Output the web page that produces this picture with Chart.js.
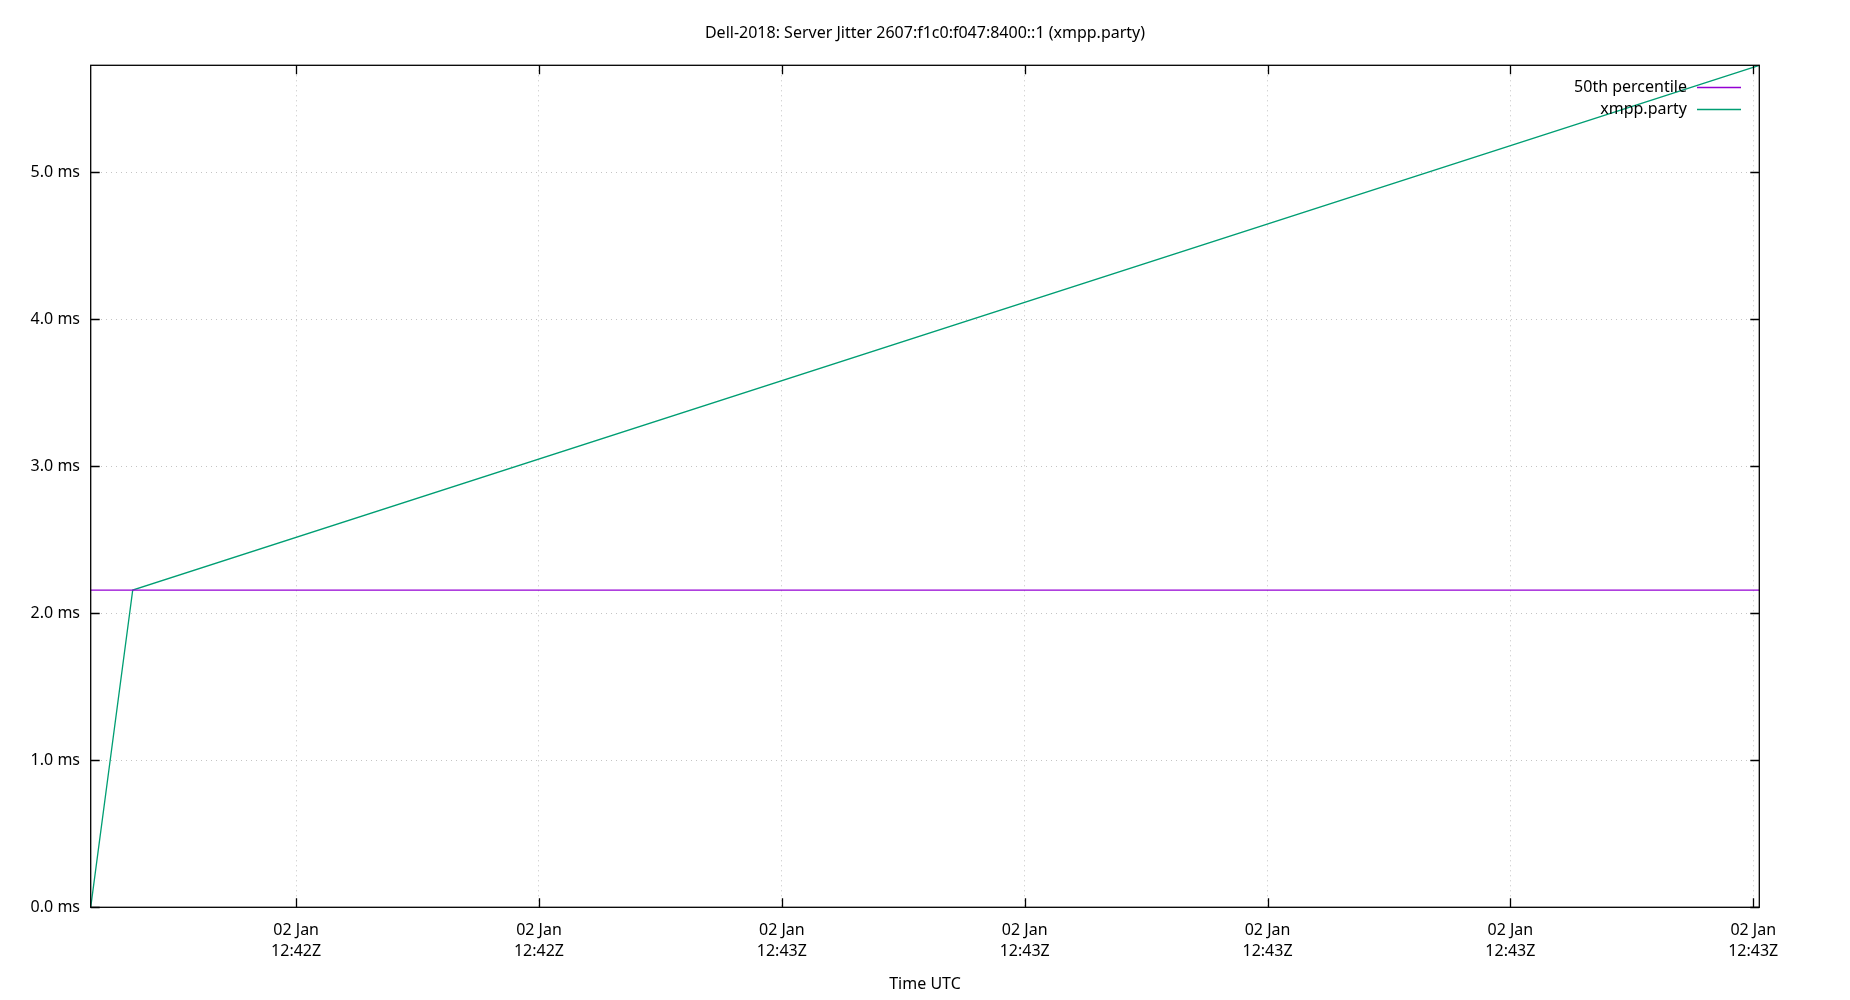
<!DOCTYPE html>
<html>
<head>
<meta charset="utf-8">
<script src="https://cdn.jsdelivr.net/npm/chart.js@4.4.1/dist/chart.umd.min.js"></script>
<style>
  html, body { margin: 0; padding: 0; background: #fff; }
  #wrap { width: 1850px; height: 1000px; }
</style>
</head>
<body>
<div id="wrap"><canvas id="c" width="1850" height="1000"></canvas></div>
<script>
// ---- data (seconds after 12:42:00 UTC, 02 Jan) ----
const chartTitle = "Dell-2018: Server Jitter 2607:f1c0:f047:8400::1 (xmpp.party)";
const timeSec = [31.54, 33.27, 100.25];
const jitterMs = [0.0, 2.158, 5.728];
const p50Time = [31.54, 100.25];
const p50Ms = [2.158, 2.158];
const seriesLabels = ["50th percentile", "xmpp.party"];
const xTicks = [40, 50, 60, 70, 80, 90, 100];
const xTickDate = "02 Jan";
const xTickTime = ["12:42Z", "12:42Z", "12:43Z", "12:43Z", "12:43Z", "12:43Z", "12:43Z"];
const yTicks = [0, 1, 2, 3, 4, 5];
const yMax = 5.728;
const xAxisTitle = "Time UTC";

Chart.defaults.font.family = "'Noto Sans', sans-serif";
Chart.defaults.font.size = 16;
Chart.defaults.color = '#000';

const COLORS = ['#9400d3', '#009e73'];

const frame = {
  id: 'frame',
  afterDraw(chart) {
    const {ctx, chartArea: a, scales} = chart;
    ctx.save();
    ctx.strokeStyle = '#000';
    ctx.lineWidth = 1.3;
    // inward tick marks (mirrored)
    const tl = 9;
    ctx.beginPath();
    xTicks.forEach(v => {
      const x = Math.round(scales.x.getPixelForValue(v)) + 0.5;
      ctx.moveTo(x, a.bottom); ctx.lineTo(x, a.bottom - tl);
      ctx.moveTo(x, a.top); ctx.lineTo(x, a.top + tl);
    });
    yTicks.forEach(v => {
      const y = Math.round(scales.y.getPixelForValue(v)) + 0.5;
      ctx.moveTo(a.left, y); ctx.lineTo(a.left + tl, y);
      ctx.moveTo(a.right, y); ctx.lineTo(a.right - tl, y);
    });
    ctx.stroke();
    // box
    ctx.strokeRect(a.left, a.top, a.right - a.left, a.bottom - a.top);
    // legend
    ctx.font = "16px 'Noto Sans', sans-serif";
    ctx.textAlign = 'right';
    ctx.textBaseline = 'middle';
    const rows = [87, 109];
    chart.data.datasets.forEach((ds, i) => {
      ctx.fillStyle = '#000';
      ctx.fillText(ds.label, 1687, rows[i]);
      ctx.strokeStyle = ds.borderColor;
      ctx.lineWidth = 1.3;
      ctx.beginPath();
      ctx.moveTo(1697, rows[i] + 0.5);
      ctx.lineTo(1741, rows[i] + 0.5);
      ctx.stroke();
    });
    ctx.restore();
  }
};

new Chart(document.getElementById('c'), {
  type: 'line',
  data: {
    datasets: [
      {
        label: seriesLabels[0],
        data: p50Time.map((t, i) => ({x: t, y: p50Ms[i]})),
        borderColor: COLORS[0],
        borderWidth: 1.3,
        pointRadius: 0,
        tension: 0,
        clip: 3
      },
      {
        label: seriesLabels[1],
        data: timeSec.map((t, i) => ({x: t, y: jitterMs[i]})),
        borderColor: COLORS[1],
        borderWidth: 1.3,
        pointRadius: 0,
        tension: 0,
        clip: 3
      }
    ]
  },
  options: {
    responsive: false,
    animation: false,
    events: [],
    layout: { padding: 0 },
    plugins: {
      legend: { display: false },
      tooltip: { enabled: false },
      title: {
        display: true,
        text: chartTitle,
        color: '#000',
        font: { size: 16, weight: 'normal', lineHeight: 1.2 },
        padding: { top: 23.4, bottom: 22.7 }
      }
    },
    scales: {
      x: {
        type: 'linear',
        min: timeSec[0],
        max: timeSec[timeSec.length - 1],
        afterBuildTicks: s => { s.ticks = xTicks.map(v => ({value: v})); },
        afterFit: s => { s.height = 92.7; },
        ticks: {
          autoSkip: false,
          maxRotation: 0,
          padding: 12.2,
          font: { size: 16, lineHeight: 1.3125 },
          color: '#000',
          callback: (v, i) => [xTickDate, xTickTime[i]]
        },
        grid: { color: '#c4c4c4', lineWidth: 1, drawTicks: false },
        border: { display: false, dash: [1, 4] },
        title: {
          display: true,
          text: xAxisTitle,
          color: '#000',
          font: { size: 16, lineHeight: 1.2 },
          padding: { top: 0, bottom: 6.4 }
        }
      },
      y: {
        type: 'linear',
        min: 0,
        max: yMax,
        afterBuildTicks: s => { s.ticks = yTicks.map(v => ({value: v})); },
        afterFit: s => { s.width = 90.7; },
        ticks: {
          padding: 10.7,
          color: '#000',
          font: { size: 16 },
          callback: v => v.toFixed(1) + ' ms'
        },
        grid: { color: '#c4c4c4', lineWidth: 1, drawTicks: false },
        border: { display: false, dash: [1, 4] }
      },
      yRight: {
        type: 'linear',
        position: 'right',
        min: 0,
        max: yMax,
        afterFit: s => { s.width = 90.7; },
        ticks: { display: false },
        grid: { display: false, drawTicks: false },
        border: { display: false }
      }
    }
  },
  plugins: [frame]
});
</script>
</body>
</html>
